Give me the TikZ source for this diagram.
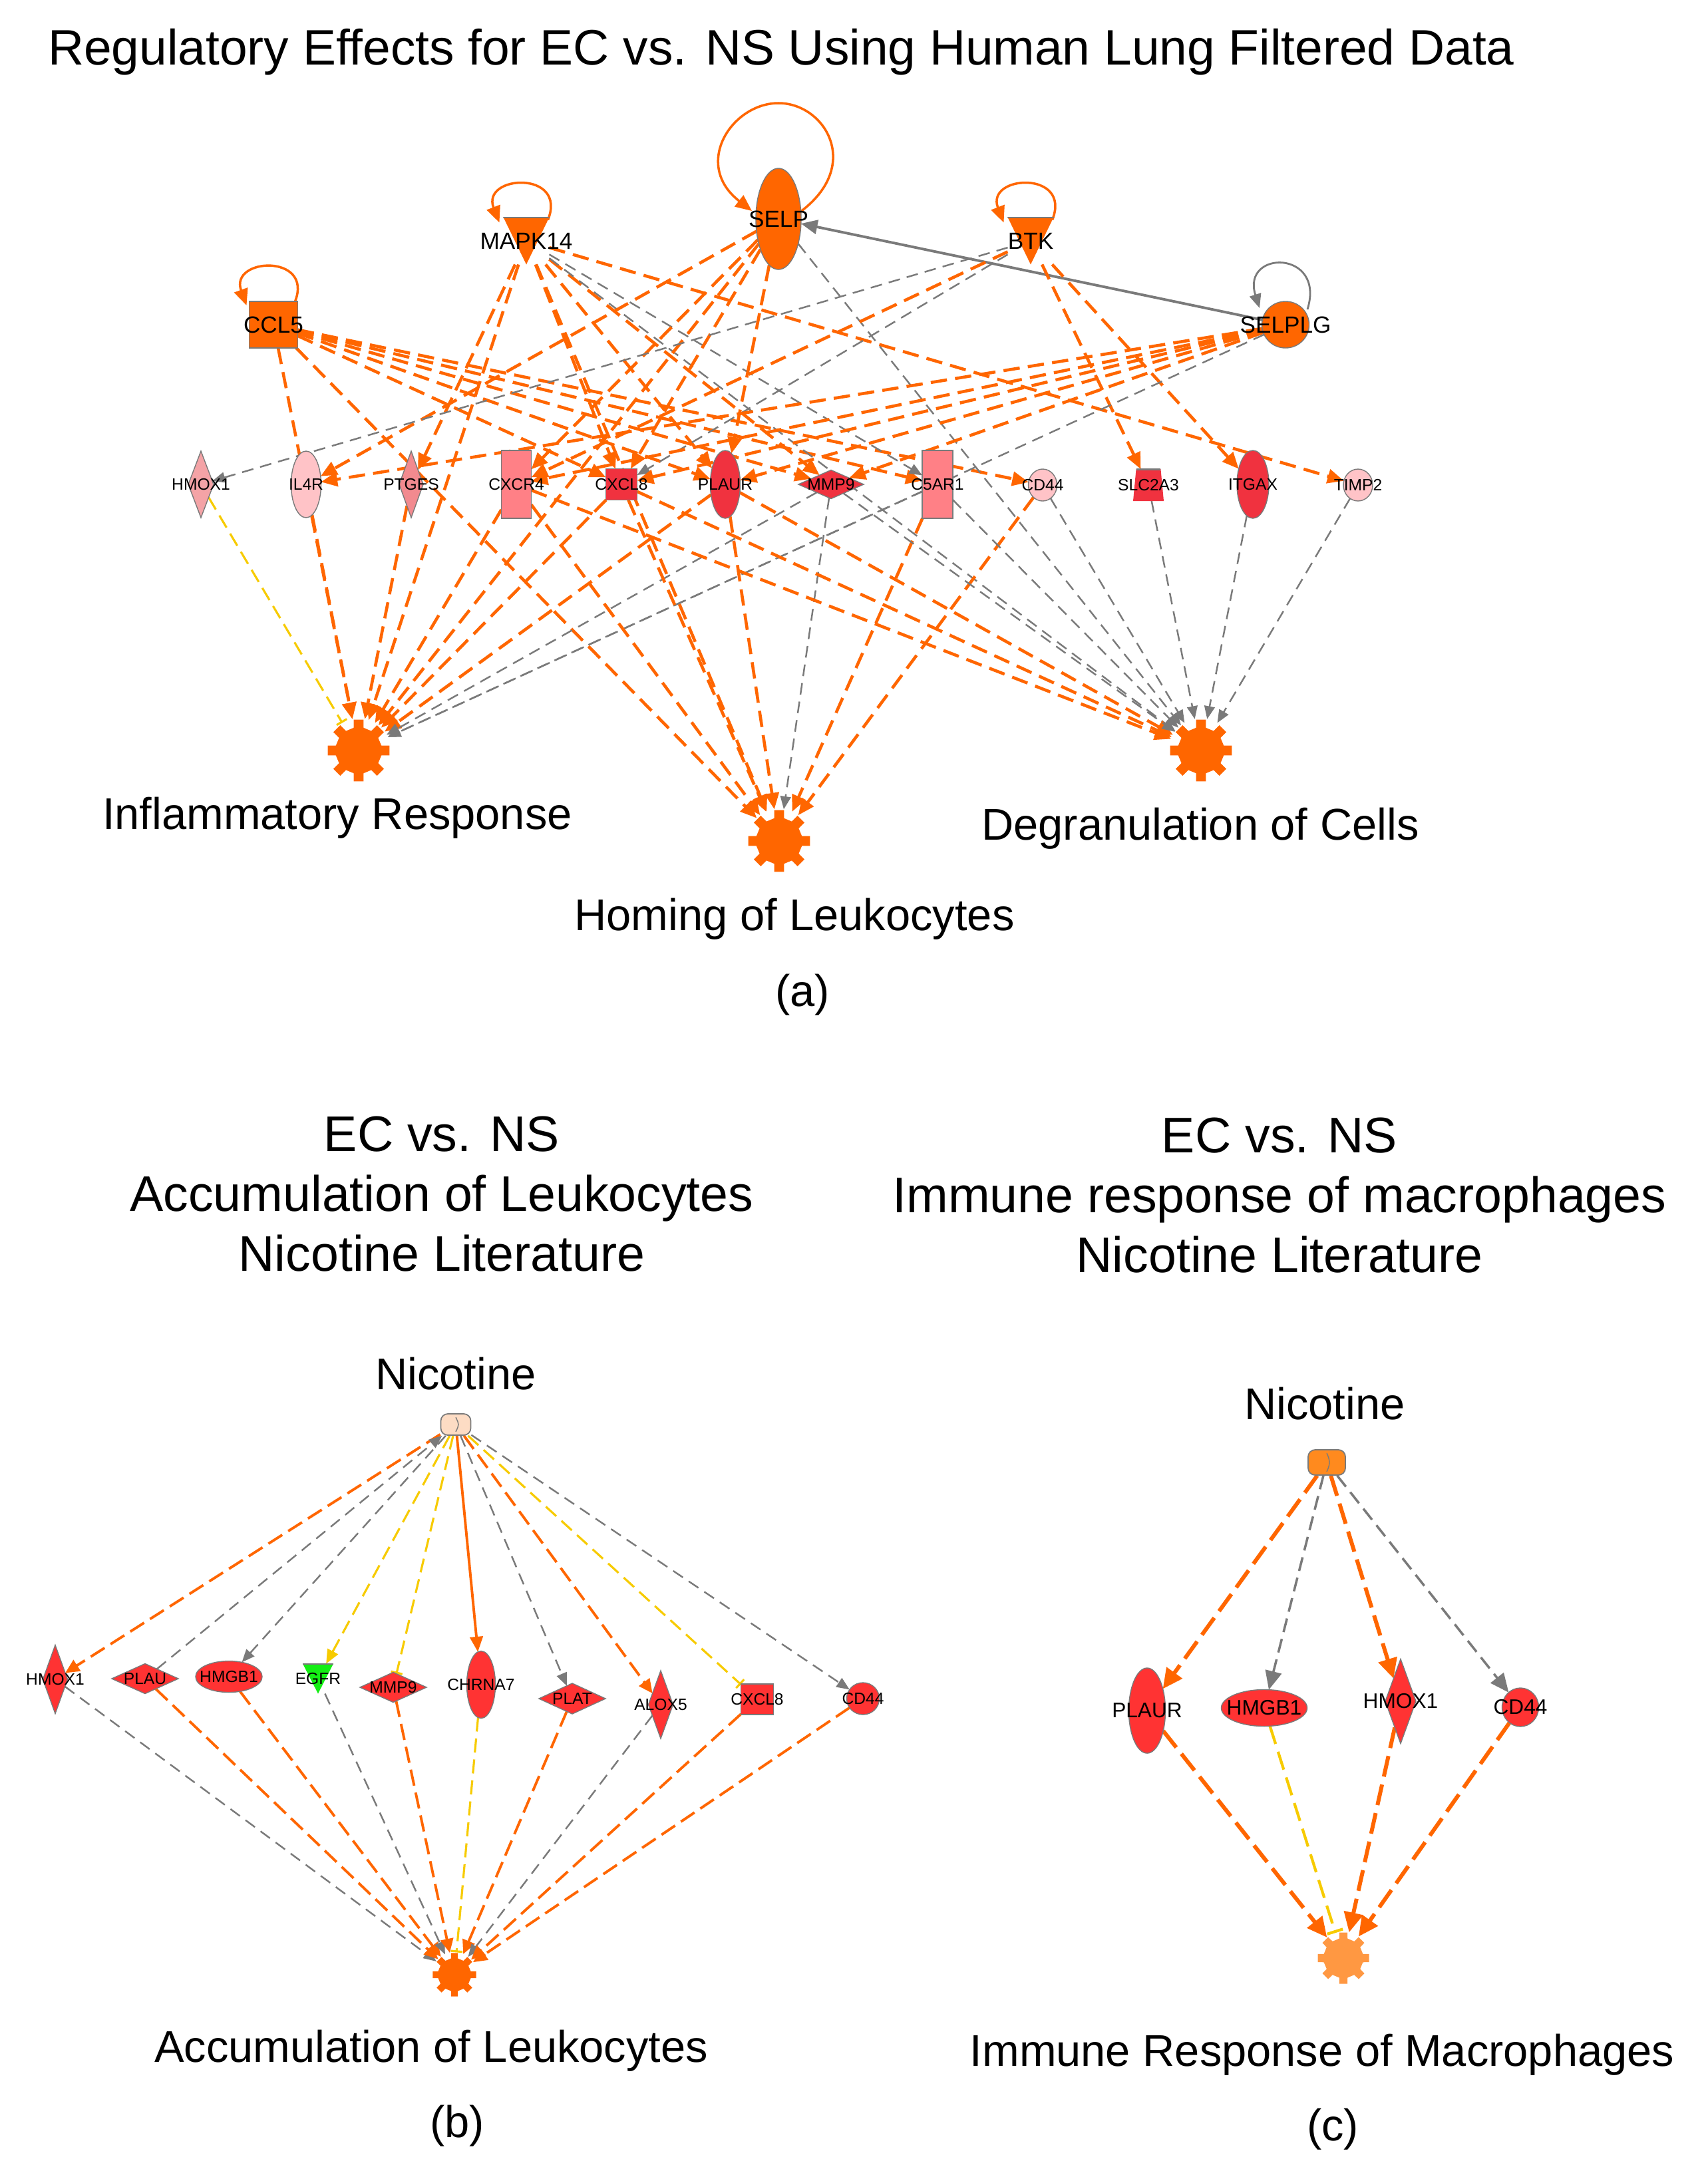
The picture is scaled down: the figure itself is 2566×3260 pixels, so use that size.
\documentclass[tikz,border=0pt]{standalone}
\usepackage{fontspec}
\setmainfont{Liberation Sans}
\usetikzlibrary{shapes.geometric,arrows.meta,calc}
\pgfdeclarelayer{bglayer}
\pgfdeclarelayer{edgelayer}
\pgfsetlayers{bglayer,edgelayer,main}
\definecolor{ior}{HTML}{FF6600}
\definecolor{cred}{HTML}{F0323F}
\definecolor{cbr}{HTML}{FF3333}
\definecolor{csal}{HTML}{FF8086}
\definecolor{cpink}{HTML}{F4A3A6}
\definecolor{cpinkb}{HTML}{F28A8F}
\definecolor{cpale}{HTML}{FFC3C7}
\definecolor{igray}{HTML}{7A7A7A}
\definecolor{iyel}{HTML}{F7CB00}
\definecolor{cgreen}{HTML}{14EE14}
\definecolor{cnic}{HTML}{FDDCC4}
\definecolor{cnicc}{HTML}{FF8A1E}
\definecolor{cgearc}{HTML}{FF9842}
\newcommand\fbig{\fontsize{19}{23}\selectfont}
\newcommand\ftitle{\fontsize{21.3}{25}\selectfont}
\newcommand\fhead{\fontsize{21.4}{25.6}\selectfont}
\newcommand\fsa{\fontsize{7}{8}\selectfont}
\newcommand\fta{\fontsize{10}{12}\selectfont}
\newcommand\fsc{\fontsize{9}{11}\selectfont}
\newcommand\drawgear[4]{\fill[#4, shift={(#1.center)}] (-12:#3) \foreach \a in {0,45,...,315}{ -- (\a-12:#3) -- (\a-9:#2) -- (\a+9:#2) -- (\a+12:#3) -- (\a+33:#3)} -- cycle;}
\begin{document}
\begin{tikzpicture}[x=0.01cm,y=0.01cm,
 gn/.style={draw=igray, line width=0.4pt, inner sep=0pt, outer sep=0pt},
 la/.style={label={[font=\fsa, inner sep=0pt]center:#1}},
 lt/.style={label={[font=\fta, inner sep=0pt]center:#1}},
 lc/.style={label={[font=\fsc, inner sep=0pt]center:#1}},
 ell/.style={gn, ellipse, fill=#1},
 dia/.style={gn, diamond, fill=#1},
 bx/.style={gn, rectangle, fill=#1},
 trid/.style={rectangle, inner sep=0pt, outer sep=0pt, path picture={\fill[#1] (path picture bounding box.north west) -- (path picture bounding box.north east) -- (path picture bounding box.south) -- cycle; \draw[igray, line width=1pt] (path picture bounding box.north west) -- (path picture bounding box.north east);}},
 trap/.style={rectangle, inner sep=0pt, outer sep=0pt, path picture={\fill[#1] ([xshift=1.3pt]path picture bounding box.north west) -- ([xshift=-1.3pt]path picture bounding box.north east) -- (path picture bounding box.south east) -- (path picture bounding box.south west) -- cycle; \draw[igray, line width=1pt] ([xshift=1.3pt]path picture bounding box.north west) -- ([xshift=-1.3pt]path picture bounding box.north east);}},
 gearn/.style={circle, inner sep=0pt, minimum size=#1},
 nicst/.style={rectangle, rounded corners=3pt, draw=igray, line width=0.5pt, fill=#1, inner sep=0pt, path picture={\draw[igray, line width=0.4pt] ([yshift=-1.5pt]path picture bounding box.north) .. controls +(1.5pt,-3pt) and +(1.5pt,3pt) .. ([yshift=1.5pt]path picture bounding box.south);}},
 oa/.style={draw=ior, line width=1.3pt, dash pattern=on 7pt off 3.5pt, -{Triangle[length=7pt,width=6pt]}},
 ga/.style={draw=igray, line width=0.7pt, dash pattern=on 5pt off 3pt, -{Triangle[length=5.5pt,width=4.5pt]}},
 ya/.style={draw=iyel, line width=0.9pt, dash pattern=on 6pt off 3pt, -{Bar[width=5pt,line width=0.9pt]}},
 oloop/.style={draw=ior, line width=1pt, -{Triangle[length=7pt,width=6pt]}},
 gloop/.style={draw=igray, line width=0.8pt, -{Triangle[length=6pt,width=5pt]}},
 gsolid/.style={draw=igray, line width=1.1pt, -{Triangle[length=7pt,width=6pt]}},
 ob/.style={draw=ior, line width=1.1pt, dash pattern=on 7pt off 3pt, -{Triangle[length=6pt,width=5.5pt]}},
 osb/.style={draw=ior, line width=1.1pt, -{Triangle[length=6.5pt,width=5.5pt]}},
 gb/.style={draw=igray, line width=0.7pt, dash pattern=on 5pt off 3pt, -{Triangle[length=5.5pt,width=4.5pt]}},
 yb/.style={draw=iyel, line width=0.9pt, dash pattern=on 6pt off 3pt, -{Bar[width=5pt,line width=0.9pt]}},
 ybt/.style={draw=iyel, line width=0.9pt, dash pattern=on 6pt off 3pt, -{Triangle[length=6pt,width=5pt]}},
 oc/.style={draw=ior, line width=1.7pt, dash pattern=on 9pt off 3.5pt, -{Triangle[length=8.5pt,width=8pt]}},
 gc/.style={draw=igray, line width=1pt, dash pattern=on 6pt off 3pt, -{Triangle[length=8pt,width=7pt]}},
 yc/.style={draw=iyel, line width=1.2pt, dash pattern=on 8pt off 3.5pt, -{Bar[width=7pt,line width=1.2pt]}}
]
\begin{pgfonlayer}{bglayer}
\fill[white] (0,0) rectangle (2566,-3260);
\end{pgfonlayer}
\path[use as bounding box] (0,0) rectangle (2566,-3260);

% ---------------- panel (a) ----------------
\node[font=\ftitle] (ttl) at (1174,-78) {Regulatory Effects for EC vs. NS Using Human Lung Filtered Data};

\node[bx=ior, minimum width=0.73cm, minimum height=0.70cm, lt=CCL5] (ccl5) at (411,-488) {};
\node[trid=ior, minimum width=0.69cm, minimum height=0.71cm, lt=MAPK14] (mapk) at (791,-362) {};
\node[ell=ior, minimum width=0.68cm, minimum height=1.52cm, lt=SELP] (selp) at (1170,-329) {};
\node[trid=ior, minimum width=0.69cm, minimum height=0.71cm, lt=BTK] (btk) at (1549,-362) {};
\node[ell=ior, minimum width=0.71cm, minimum height=0.70cm, lt=SELPLG] (selplg) at (1932,-488) {};

\node[dia=cpink, minimum width=0.38cm, minimum height=1.0cm, la=HMOX1] (hmoxa) at (302,-728) {};
\node[ell=cpale, minimum width=0.45cm, minimum height=1.0cm, la=IL4R] (il4r) at (460,-728) {};
\node[dia=cpinkb, minimum width=0.36cm, minimum height=1.0cm, la=PTGES] (ptges) at (618,-728) {};
\node[bx=csal, minimum width=0.45cm, minimum height=1.02cm, la=CXCR4] (cxcr4) at (776,-728) {};
\node[bx=cred, minimum width=0.47cm, minimum height=0.47cm, la=CXCL8] (cxcl8a) at (934,-728) {};
\node[ell=cred, minimum width=0.45cm, minimum height=1.02cm, la=PLAUR] (plaura) at (1090,-728) {};
\node[dia=cred, minimum width=0.98cm, minimum height=0.43cm, la=MMP9] (mmp9a) at (1249,-728) {};
\node[bx=csal, minimum width=0.46cm, minimum height=1.02cm, la=C5AR1] (c5ar1) at (1409,-728) {};
\node[ell=cpale, minimum width=0.43cm, minimum height=0.48cm, la=CD44] (cd44a) at (1567,-729) {};
\node[trap=cred, minimum width=0.46cm, minimum height=0.48cm, la=SLC2A3] (slc) at (1726,-729) {};
\node[ell=cred, minimum width=0.48cm, minimum height=1.02cm, la=ITGAX] (itgax) at (1883,-728) {};
\node[ell=cpale, minimum width=0.44cm, minimum height=0.48cm, la=TIMP2] (timp2) at (2041,-729) {};

\node[gearn=0.95cm] (infl) at (539,-1128) {};
\node[gearn=0.95cm] (homing) at (1171,-1264) {};
\node[gearn=0.95cm] (degran) at (1805,-1128) {};
\drawgear{infl}{47}{35}{ior}
\drawgear{homing}{47}{35}{ior}
\drawgear{degran}{47}{35}{ior}

\node[font=\fbig] (linfl) at (507,-1229) {Inflammatory Response};
\node[font=\fbig] (lhom) at (1194,-1381) {Homing of Leukocytes};
\node[font=\fbig] (ldeg) at (1804,-1245) {Degranulation of Cells};
\node[font=\fbig] (la) at (1206,-1495) {(a)};

% ---------------- panel (b) ----------------
\node[font=\fhead, align=center] (hb) at (664,-1795) {EC vs. NS\\Accumulation of Leukocytes\\Nicotine Literature};
\node[font=\fbig] (nicbl) at (685,-2065) {Nicotine};
\node[nicst=cnic, minimum width=0.45cm, minimum height=0.32cm] (nicb) at (685,-2141) {};
\node[dia=cbr, minimum width=0.37cm, minimum height=1.03cm, la=HMOX1] (hmoxb) at (83,-2524) {};
\node[dia=cbr, minimum width=1.0cm, minimum height=0.45cm, la=PLAU] (plau) at (218,-2523) {};
\node[ell=cbr, minimum width=1.0cm, minimum height=0.47cm, la=HMGB1] (hmgbb) at (344,-2520) {};
\node[trid=cgreen, minimum width=0.46cm, minimum height=0.45cm, la=EGFR] (egfr) at (478,-2523) {};
\node[dia=cbr, minimum width=1.0cm, minimum height=0.45cm, la=MMP9] (mmp9b) at (591,-2536) {};
\node[ell=cbr, minimum width=0.43cm, minimum height=1.01cm, la=CHRNA7] (chrna7) at (723,-2532) {};
\node[dia=cbr, minimum width=1.0cm, minimum height=0.46cm, la=PLAT] (plat) at (860,-2553) {};
\node[dia=cbr, minimum width=0.37cm, minimum height=1.02cm, la=ALOX5] (alox5) at (993,-2562) {};
\node[bx=cbr, minimum width=0.49cm, minimum height=0.46cm, la=CXCL8] (cxcl8b) at (1138,-2554) {};
\node[ell=cbr, minimum width=0.49cm, minimum height=0.48cm, la=CD44] (cd44b) at (1297,-2553) {};
\node[gearn=0.66cm] (accum) at (683,-2968) {};
\drawgear{accum}{33}{25}{ior}
\node[font=\fbig] (lacc) at (648,-3082) {Accumulation of Leukocytes};
\node[font=\fbig] (lb) at (687,-3195) {(b)};

% ---------------- panel (c) ----------------
\node[font=\fhead, align=center] (hc) at (1923,-1797) {EC vs. NS\\Immune response of macrophages\\Nicotine Literature};
\node[font=\fbig] (niccl) at (1991,-2110) {Nicotine};
\node[nicst=cnicc, minimum width=0.56cm, minimum height=0.38cm] (nicc) at (1994,-2198) {};
\node[ell=cbr, minimum width=0.55cm, minimum height=1.28cm, lc=PLAUR] (plaurc) at (1724,-2571) {};
\node[ell=cbr, minimum width=1.29cm, minimum height=0.55cm, lc=HMGB1] (hmgbc) at (1900,-2567) {};
\node[dia=cbr, minimum width=0.46cm, minimum height=1.27cm, lc=HMOX1] (hmoxc) at (2105,-2557) {};
\node[ell=cbr, minimum width=0.55cm, minimum height=0.58cm, lc=CD44] (cd44c) at (2285,-2566) {};
\node[gearn=0.78cm] (immune) at (2019,-2943) {};
\drawgear{immune}{39}{30}{cgearc}
\node[font=\fbig] (limm) at (1987,-3088) {Immune Response of Macrophages};
\node[font=\fbig] (lc) at (2003,-3200) {(c)};

\begin{pgfonlayer}{edgelayer}
% loops
\draw[oloop] ($(ccl5.north east)+(-4,0)$) .. controls +(28,72) and +(-26,72) .. ($(ccl5.north west)+(-4,-6)$);
\draw[oloop] ($(mapk.north east)+(-2,-4)$) .. controls +(30,75) and +(-28,72) .. ($(mapk.north west)+(-6,-8)$);
\draw[oloop] ($(btk.north east)+(-2,-4)$) .. controls +(30,75) and +(-28,72) .. ($(btk.north west)+(-6,-8)$);
\draw[oloop] ($(selp)+(32,10)$) .. controls +(95,70) and +(70,0) .. ($(selp)+(0,174)$) .. controls +(-70,0) and +(-90,70) .. ($(selp)+(-40,12)$);
\draw[gloop] ($(selplg)+(33,23)$) .. controls +(28,90) and +(-28,88) .. ($(selplg)+(-39,25)$);
\draw[gsolid] (selplg) -- (selp);
% CCL5
\draw[oa] (ccl5) -- (infl);
\draw[oa] (ccl5) -- (homing);
\draw[oa] (ccl5) -- (cxcl8a);
\draw[oa] (ccl5) -- (plaura);
\draw[oa] (ccl5) -- (mmp9a);
\draw[oa] (ccl5) -- (c5ar1);
\draw[oa] (ccl5) -- (cd44a);
% MAPK14
\draw[oa] (mapk) -- (ptges);
\draw[oa] (mapk) -- (cxcl8a);
\draw[oa] (mapk) -- (plaura);
\draw[oa] (mapk) -- (mmp9a);
\draw[oa] (mapk) -- (timp2);
\draw[oa] (mapk) -- (infl);
\draw[oa] (mapk) -- (homing);
\draw[ga] (mapk) -- (degran);
\draw[ga] (mapk) -- (c5ar1);
% SELP
\draw[oa] (selp) -- (il4r);
\draw[oa] (selp) -- (cxcr4);
\draw[oa] (selp) -- (cxcl8a);
\draw[oa] (selp) -- (plaura);
\draw[oa] (selp) -- (infl);
\draw[ga] (selp) -- (degran);
% BTK
\draw[ga] (btk) -- (hmoxa);
\draw[ga] (btk) -- (cxcl8a);
\draw[oa] (btk) -- (cxcr4);
\draw[oa] (btk) -- (slc);
\draw[oa] (btk) -- (itgax);
% SELPLG
\draw[oa] (selplg) -- (il4r);
\draw[oa] (selplg) -- (cxcr4);
\draw[oa] (selplg) -- (cxcl8a);
\draw[oa] (selplg) -- (plaura);
\draw[oa] (selplg) -- (mmp9a);
\draw[ga] (selplg) -- (infl);
% middle to functions
\draw[ya] (hmoxa) -- (infl);
\draw[oa] (il4r) -- (infl);
\draw[oa] (ptges) -- (infl);
\draw[oa] (cxcr4) -- (infl);
\draw[oa] (cxcl8a) -- (infl);
\draw[oa] (plaura) -- (infl);
\draw[ga] (mmp9a) -- (infl);
\draw[ga] (c5ar1) -- (infl);
\draw[oa] (cxcr4) -- (homing);
\draw[oa] (cxcl8a) -- (homing);
\draw[oa] (plaura) -- (homing);
\draw[ga] (mmp9a) -- (homing);
\draw[oa] (c5ar1) -- (homing);
\draw[oa] (cd44a) -- (homing);
\draw[oa] (cxcr4) -- (degran);
\draw[oa] (cxcl8a) -- (degran);
\draw[oa] (plaura) -- (degran);
\draw[ga] (mmp9a) -- (degran);
\draw[ga] (c5ar1) -- (degran);
\draw[ga] (cd44a) -- (degran);
\draw[ga] (slc) -- (degran);
\draw[ga] (itgax) -- (degran);
\draw[ga] (timp2) -- (degran);
% panel b
\draw[ob] (nicb) -- (hmoxb);
\draw[gb] (plau) -- (nicb);
\draw[gb] (nicb) -- (hmgbb);
\draw[ybt] (nicb) -- (egfr);
\draw[yb] (nicb) -- (mmp9b);
\draw[osb] (nicb) -- (chrna7);
\draw[gb] (nicb) -- (plat);
\draw[ob] (nicb) -- (alox5);
\draw[yb] (nicb) -- (cxcl8b);
\draw[gb] (nicb) -- (cd44b);
\draw[gb] (hmoxb) -- (accum);
\draw[ob] (plau) -- (accum);
\draw[ob] (hmgbb) -- (accum);
\draw[gb] (egfr) -- (accum);
\draw[ob] (mmp9b) -- (accum);
\draw[yb] (chrna7) -- (accum);
\draw[ob] (plat) -- (accum);
\draw[gb] (alox5) -- (accum);
\draw[ob] (cxcl8b) -- (accum);
\draw[ob] (cd44b) -- (accum);
% panel c
\draw[oc] (nicc) -- (plaurc);
\draw[gc] (nicc) -- (hmgbc);
\draw[oc] (nicc) -- (hmoxc);
\draw[gc] (nicc) -- (cd44c);
\draw[oc] (plaurc) -- (immune);
\draw[yc] (hmgbc) -- (immune);
\draw[oc] (hmoxc) -- (immune);
\draw[oc] (cd44c) -- (immune);
\end{pgfonlayer}
\end{tikzpicture}
\end{document}
